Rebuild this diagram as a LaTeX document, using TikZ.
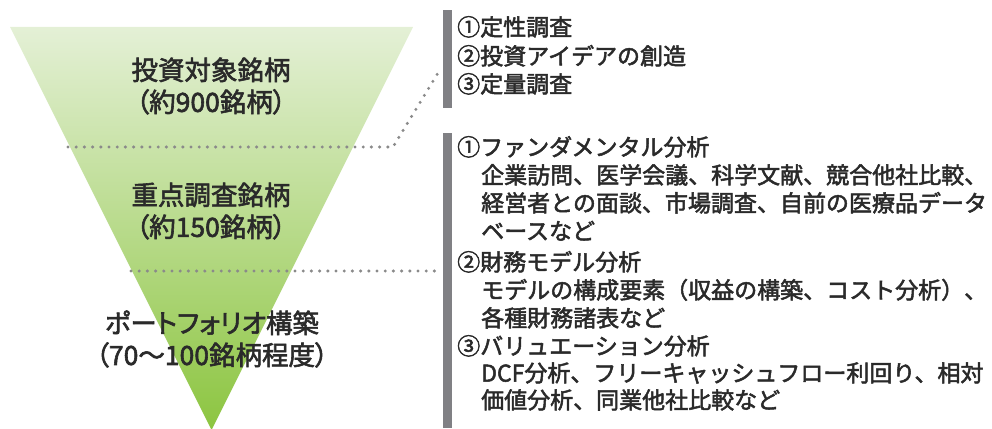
\documentclass[tikz,border=0pt]{standalone}
\usepackage{fontspec}
\setmainfont{Noto Sans CJK JP}[FakeBold=2.2]
\newfontfamily\palfont{Noto Sans CJK JP}[RawFeature=+palt,FakeBold=2.2]
\usetikzlibrary{calc}
\definecolor{txt}{HTML}{2A2A2A}
\definecolor{bar}{HTML}{808084}
\definecolor{dots}{HTML}{8A8A8A}
\definecolor{gtop}{HTML}{E4F0D6}
\definecolor{gbot}{HTML}{8CC540}
\tikzset{
  lbl/.style={font=\palfont\fontsize{26.5}{32}\selectfont, text=txt, inner sep=0pt, align=center},
  rline/.style={font=\fontsize{23}{28}\selectfont, text=txt, inner sep=0pt, anchor=base west},
  dotline/.style={draw=dots, line width=3.4pt, line cap=round, dash pattern=on 0pt off 8.2pt},
  graybar/.style={fill=bar, draw=none}
}
\begin{document}
\begin{tikzpicture}[x=1pt,y=-1pt]
\useasboundingbox (0,0) rectangle (992,428);
% funnel
\coordinate (tl) at (10,27);
\coordinate (tr) at (413,27);
\coordinate (ap) at (211.5,430);
\shade[top color=gtop, bottom color=gbot] (tl) -- (tr) -- (ap) -- cycle;
% dotted lines
\coordinate (d1a) at (68,147);
\coordinate (d1b) at (393,147);
\coordinate (d1c) at (438,73);
\coordinate (d2a) at (131,271);
\coordinate (d2b) at (437,271);
\draw[dotline] (d1a) -- (d1b) -- (d1c);
\draw[dotline] (d2a) -- (d2b);
% bars
\fill[graybar] (443,10) rectangle (452,108);
\fill[graybar] (443,133) rectangle (452,428);
% left labels
\node[lbl] (l1) at (211,86) {投資対象銘柄\\（約900銘柄）};
\node[lbl] (l2) at (211,211) {重点調査銘柄\\（約150銘柄）};
\node[lbl] (l3) at (212,339) {ポートフォリオ構築\\（70〜100銘柄程度）};
% right block 1
\node[rline] (a1) at (457,35.6) {①定性調査};
\node[rline] (a2) at (457,64.6) {②投資アイデアの創造};
\node[rline] (a3) at (457,92.6) {③定量調査};
% right block 2
\node[rline] (b1) at (457,155.6) {①ファンダメンタル分析};
\node[rline] (b2) at (481,183.6) {企業訪問、医学会議、科学文献、競合他社比較、};
\node[rline] (b3) at (481,211.6) {経営者との面談、市場調査、自前の医療品データ};
\node[rline] (b4) at (481,239.6) {ベースなど};
\node[rline] (b5) at (457,270.6) {②財務モデル分析};
\node[rline] (b6) at (481,298.6) {モデルの構成要素（収益の構築、コスト分析）、};
\node[rline] (b7) at (481,326.6) {各種財務諸表など};
\node[rline] (b8) at (457,354.6) {③バリュエーション分析};
\node[rline] (b9) at (481,381.6) {DCF分析、フリーキャッシュフロー利回り、相対};
\node[rline] (b10) at (481,408.6) {価値分析、同業他社比較など};
\end{tikzpicture}
\end{document}
